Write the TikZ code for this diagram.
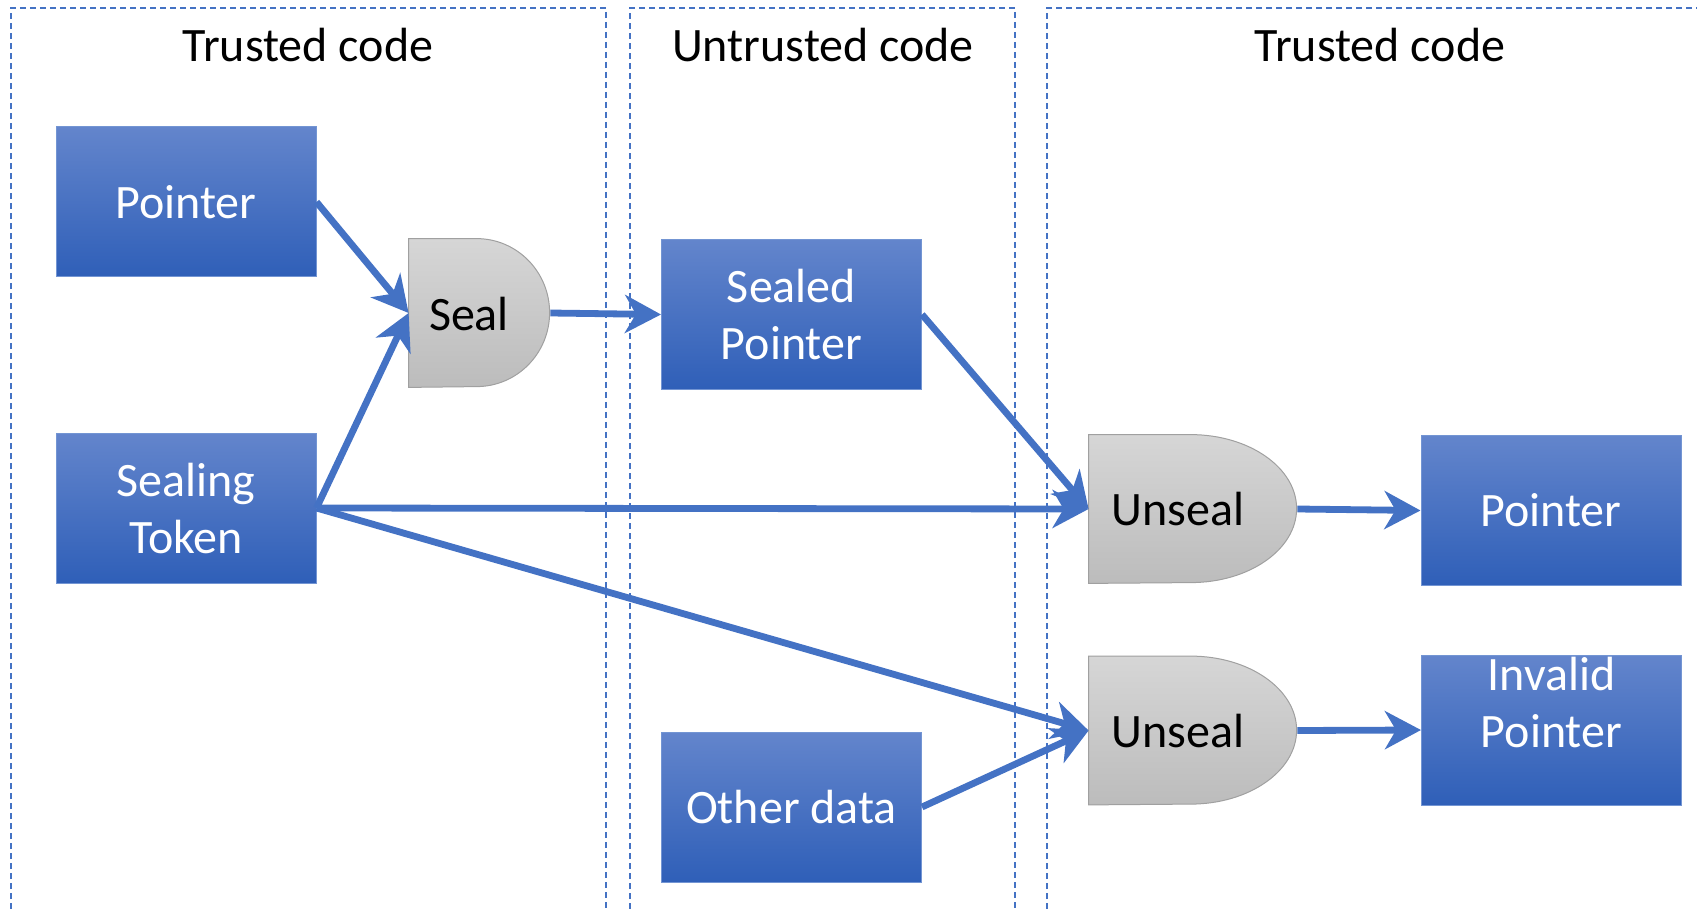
\documentclass[tikz,border=0pt]{standalone}
\usepackage{fontspec}
\setmainfont{Carlito}
\usetikzlibrary{arrows.meta}
\definecolor{accent}{HTML}{4472C4}
\definecolor{boxtop}{HTML}{6385CC}
\definecolor{boxbot}{HTML}{2F5FB8}
\definecolor{gatetop}{HTML}{D6D6D6}
\definecolor{gatebot}{HTML}{BCBCBC}
\definecolor{gateline}{HTML}{A0A0A0}
\begin{document}
\begin{tikzpicture}[x=0.5pt,y=0.5pt,
  bigfont/.style={font=\fontsize{24}{28.5}\selectfont},
  bluebox/.style={draw=accent!75!white, line width=0.5pt, top color=boxtop, bottom color=boxbot,
    text=white, minimum width=130pt, minimum height=75pt, align=center, bigfont, inner sep=0pt},
  boxtext/.style={text=white, align=center, bigfont, inner sep=0pt},
  gatenode/.style={draw=none, inner sep=0pt, minimum height=74pt},
  gateshade/.style={draw=gateline, line width=0.5pt, top color=gatetop, bottom color=gatebot},
  gatetext/.style={text=black, bigfont, inner sep=0pt},
  title/.style={text=black, bigfont, inner sep=0pt},
  panel/.style={draw=accent, line width=0.6pt, dash pattern=on 3pt off 2pt},
  conn/.style={draw=accent, line width=3.4pt, -{Stealth[length=18pt, width=19pt, inset=5.5pt]}}
]
\useasboundingbox (0,0) rectangle (1697,-909);

% panels
\draw[panel] (11,-909) -- (11,-8) -- (606,-8) -- (606,-909);
\draw[panel] (630,-909) -- (630,-8) -- (1015,-8) -- (1015,-909);
\draw[panel] (1047,-909) -- (1047,-8) -- (1697,-8);

% titles
\node[title] (t1) at (308,-45) {Trusted code};
\node[title] (t2) at (823,-45) {Untrusted code};
\node[title] (t3) at (1380,-45) {Trusted code};

% blue boxes
\node[bluebox] (ptr) at (186,-202) {Pointer};
\node[bluebox] (tok) at (186,-508) {Sealing\\Token};
\node[bluebox] (sealed) at (791.5,-314.5) {Sealed\\Pointer};
\node[bluebox] (other) at (791.5,-807) {Other data};
\node[bluebox] (ptr2) at (1551,-510.5) {Pointer};
\node[bluebox] (inv) at (1551.5,-730) {};
\node[boxtext] (invtxt) at (1551.5,-703) {Invalid\\Pointer};

% gates
\node[gatenode, minimum width=70.5pt] (seal) at (479.5,-313) {};
\shade[gateshade] (seal.south west) -- (seal.north west) -- ++(68,0)
  arc[start angle=90, end angle=-90, x radius=36.5pt, y radius=37pt] -- cycle;
\node[gatetext] (sealtxt) at (469,-314) {Seal};

\node[gatenode, minimum width=104pt] (u1) at (1193,-509) {};
\shade[gateshade] (u1.south west) -- (u1.north west) -- ++(102,0)
  arc[start angle=90, end angle=-90, x radius=53pt, y radius=37pt] -- cycle;
\node[gatetext] (u1txt) at (1178,-509) {Unseal};

\node[gatenode, minimum width=104pt] (u2) at (1193,-730.5) {};
\shade[gateshade] (u2.south west) -- (u2.north west) -- ++(102,0)
  arc[start angle=90, end angle=-90, x radius=53pt, y radius=37pt] -- cycle;
\node[gatetext] (u2txt) at (1178,-731) {Unseal};

% connectors
\draw[conn] (ptr.east) -- (seal.west);
\draw[conn] (tok.east) -- (seal.west);
\draw[conn] (seal.east) -- (sealed.west);
\draw[conn] (sealed.east) -- (u1.west);
\draw[conn] (tok.east) -- (u1.west);
\draw[conn] (tok.east) -- (u2.west);
\draw[conn] (other.east) -- (u2.west);
\draw[conn] (u1.east) -- (ptr2.west);
\draw[conn] (u2.east) -- (inv.west);
\end{tikzpicture}
\end{document}
